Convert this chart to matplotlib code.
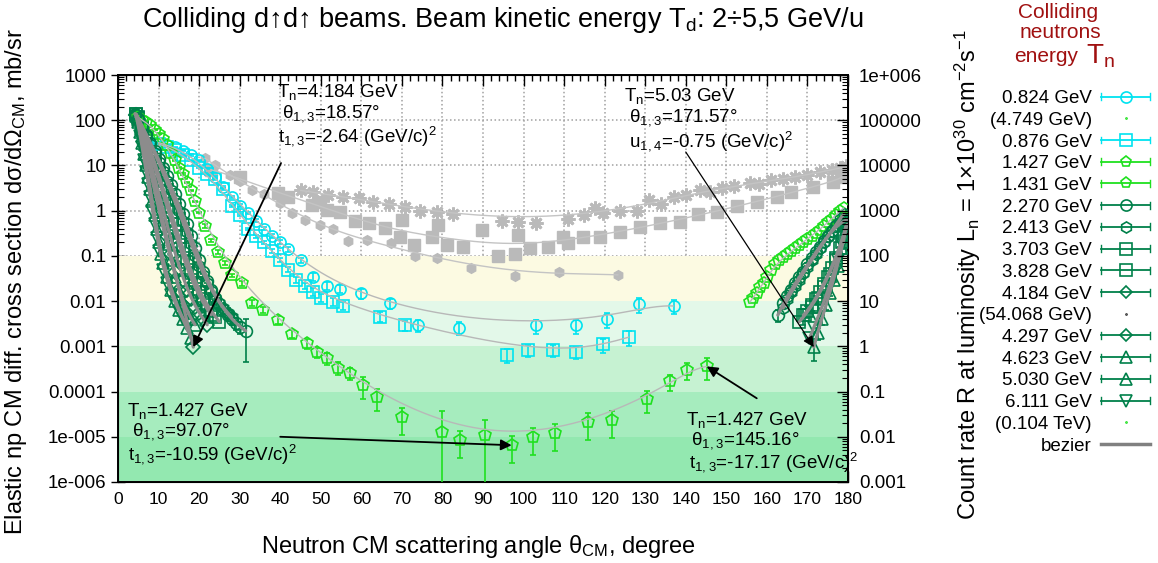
import numpy as np
import matplotlib

matplotlib.use("Agg")
import matplotlib.pyplot as plt
from matplotlib.lines import Line2D
from matplotlib.legend_handler import HandlerLine2D
from matplotlib.ticker import MultipleLocator, LogLocator, NullFormatter

plt.rcParams["font.family"] = ["Liberation Sans", "DejaVu Sans"]
plt.rcParams["mathtext.fontset"] = "custom"
plt.rcParams["mathtext.rm"] = "Liberation Sans"
plt.rcParams["mathtext.default"] = "regular"

# ---- data: neutron CM angle (deg) vs dsigma/dOmega (mb/sr), relative errors ----
c824_ang = [10, 12, 14, 16, 18, 20, 22, 24, 26, 28, 30, 32, 34, 36, 38, 40, 42, 45, 48, 51.5,
            54.7, 60, 67, 74, 84, 103, 113, 120.5, 128.5, 137]
c824_val = [32, 28, 25, 21, 17, 13, 8.5, 5.5, 3.4, 2.0, 1.3, 0.9, 0.6, 0.4, 0.28, 0.2, 0.14, 0.08,
            0.035, 0.022, 0.019, 0.015, 0.009, 0.0029, 0.0026, 0.0029, 0.0029, 0.004, 0.0085, 0.0078]
c824_err = [0.03, 0.03, 0.03, 0.03, 0.03, 0.03, 0.04, 0.04, 0.05, 0.05, 0.06, 0.06, 0.08, 0.08, 0.1,
            0.1, 0.12, 0.15, 0.2, 0.2, 0.2, 0.25, 0.25, 0.3, 0.3, 0.35, 0.35, 0.35, 0.35, 0.35]

c876_ang = [10, 12, 14, 16, 18, 20, 22, 24, 26, 28, 30, 32, 34, 36, 38, 40, 42, 44, 46, 48, 50,
            53, 55.5, 64.6, 70.8, 96, 101, 107.2, 113, 119.6, 126]
c876_val = [30, 26, 22, 17, 13, 9, 6.5, 5, 3, 1.3, 0.8, 0.4, 0.27, 0.2, 0.13, 0.08, 0.05, 0.03,
            0.022, 0.016, 0.012, 0.0097, 0.0078, 0.0045, 0.0029, 0.00065, 0.00081, 0.00081,
            0.00074, 0.0011, 0.0016]
c876_err = [0.03, 0.03, 0.03, 0.03, 0.03, 0.03, 0.04, 0.04, 0.05, 0.05, 0.06, 0.06, 0.08, 0.08,
            0.1, 0.1, 0.12, 0.15, 0.15, 0.2, 0.2, 0.2, 0.2, 0.25, 0.25, 0.35, 0.3, 0.3, 0.3, 0.35, 0.35]

g1427_ang = [5, 6, 7, 8, 9, 10, 11, 12, 13, 14, 15, 16, 17, 18, 19, 20, 21.4, 23, 24.7, 26.4, 28,
             30.6, 33, 35.7, 39.4, 42.9, 46.6, 49, 51.5, 54.2, 57.2, 60.4, 63.8, 70, 79.9, 84.3,
             90.5, 97.07, 102.3, 107.7, 115.9, 121.8, 130.4, 136, 140.3, 145.16]
g1427_val = [115, 100, 90, 78, 62, 50, 38, 28, 19, 13, 9, 6.5, 4.2, 2.8, 1.6, 0.9, 0.46, 0.22, 0.12,
             0.069, 0.037, 0.025, 0.0093, 0.0064, 0.0039, 0.0019, 0.00117, 0.00074, 0.00055,
             0.00034, 0.00026, 0.000138, 7.6e-5, 2.7e-5, 1.26e-5, 8.3e-6, 1.07e-5, 6.5e-6, 9.8e-6,
             1.2e-5, 2.1e-5, 2.3e-5, 6.7e-5, 1.7e-4, 3e-4, 3.6e-4]
g1427_err = [0.03, 0.03, 0.03, 0.03, 0.03, 0.03, 0.03, 0.03, 0.03, 0.03, 0.03, 0.03, 0.03, 0.03,
             0.03, 0.03, 0.08, 0.08, 0.1, 0.1, 0.1, 0.12, 0.15, 0.15, 0.2, 0.2, 0.25, 0.25, 0.3,
             0.3, 0.3, 0.5, 0.5, 0.6, 2.0, 0.6, 1.2, 0.6, 0.6, 0.6, 0.6, 0.6, 0.5, 0.4, 0.4, 0.5]

g1431_ang = [155.8, 156.6, 157.5, 158.4, 159.2, 160, 161, 162, 163, 164, 165, 166, 167, 168, 169,
             170, 171, 172, 173, 174, 175, 176, 177, 178, 179]
g1431_val = [0.0095, 0.012, 0.015, 0.02, 0.025, 0.035, 0.048, 0.065, 0.08, 0.095, 0.11, 0.13, 0.15,
             0.17, 0.2, 0.24, 0.28, 0.32, 0.38, 0.45, 0.55, 0.65, 0.8, 1.0, 1.15]

dg2270_ang = [4.2, 5, 6, 7, 8, 9, 10, 11, 12, 13, 14, 15, 16, 17, 18, 19, 20, 21, 22, 23, 24, 25,
              26, 27, 28, 29, 30, 31.5]
dg2270_val = [135, 105, 72, 48, 32, 21, 14, 9, 5.8, 3.7, 2.3, 1.4, 0.85, 0.5, 0.28, 0.15, 0.08,
              0.045, 0.028, 0.018, 0.012, 0.0085, 0.0065, 0.005, 0.004, 0.0033, 0.0027, 0.0022]
dg2270_err = [0.02, 0.02, 0.02, 0.02, 0.02, 0.02, 0.02, 0.03, 0.03, 0.03, 0.04, 0.04, 0.05, 0.05,
              0.06, 0.08, 0.1, 0.1, 0.12, 0.15, 0.15, 0.2, 0.2, 0.25, 0.25, 0.3, 0.3, 0.8]
dg2413_ang = [4.2, 5, 6, 7, 8, 9, 10, 11, 12, 13, 14, 15, 16, 17, 18, 19, 20, 21, 22, 23, 24, 25,
              26, 27, 28]
dg2413_val = [140, 110, 75, 48, 30, 19, 12, 7.5, 4.6, 2.8, 1.7, 1.0, 0.6, 0.33, 0.18, 0.1, 0.06,
              0.038, 0.025, 0.017, 0.012, 0.009, 0.007, 0.0055, 0.0045]
dg2413_err = [0.02, 0.02, 0.02, 0.02, 0.02, 0.02, 0.02, 0.02, 0.02, 0.02, 0.03, 0.03, 0.04, 0.05,
              0.06, 0.08, 0.1, 0.12, 0.15, 0.15, 0.2, 0.2, 0.25, 0.25, 0.3]
dg3703_ang = [4.5, 5, 6, 7, 8, 9, 10, 11, 12, 13, 14, 15, 16, 17, 18, 19, 20, 21, 22, 23]
dg3703_val = [135, 110, 62, 34, 18, 9.5, 5, 2.6, 1.3, 0.65, 0.33, 0.17, 0.09, 0.05, 0.03, 0.019,
              0.013, 0.009, 0.0065, 0.005]
dg3828_ang = [4.5, 5, 6, 7, 8, 9, 10, 11, 12, 13, 14, 15, 16, 17, 18, 19, 20, 21, 22, 23, 24, 25]
dg3828_val = [135, 115, 70, 40, 22, 12, 6.5, 3.5, 1.8, 0.95, 0.5, 0.26, 0.14, 0.075, 0.042, 0.025,
              0.016, 0.011, 0.008, 0.006, 0.0045, 0.0035]
dg4184_ang = [4.5, 5, 6, 7, 8, 9, 10, 11, 12, 13, 14, 15, 16, 17, 18.57]
dg4184_val = [130, 100, 50, 22, 9, 3.8, 1.6, 0.65, 0.27, 0.11, 0.045, 0.018, 0.008, 0.004, 0.00096]
dg4297_ang = [4.5, 5, 6, 7, 8, 9, 10, 11, 12, 13, 14, 15, 16, 17, 18, 19, 20, 21, 22]
dg4297_val = [130, 105, 55, 26, 12, 5.5, 2.5, 1.1, 0.5, 0.23, 0.11, 0.055, 0.03, 0.018, 0.011,
              0.0075, 0.0055, 0.004, 0.003]
dg4623_ang = [4.5, 5, 6, 7, 8, 9, 10, 11, 12, 13, 14, 15, 16, 17, 18, 19]
dg4623_val = [130, 100, 45, 18, 7, 2.8, 1.1, 0.45, 0.18, 0.08, 0.035, 0.017, 0.009, 0.006, 0.004,
              0.003]
dg5030_ang = [4.5, 5, 5.5, 6, 6.5, 7, 7.5, 8, 8.5, 9, 9.5, 10, 10.5, 11, 12, 13, 14, 15, 16, 17, 18]
dg5030_val = [125, 90, 55, 32, 18, 10, 5.5, 3, 1.6, 0.8, 0.4, 0.2, 0.11, 0.07, 0.035, 0.018, 0.01,
              0.0065, 0.004, 0.0025, 0.0015]
dg6111_ang = [4.5, 5, 5.5, 6, 6.5, 7, 7.5, 8, 8.5, 9, 9.5, 10, 11, 12, 13, 14, 15, 16, 17]
dg6111_val = [120, 80, 45, 25, 13, 7, 3.8, 2.0, 1.0, 0.5, 0.25, 0.13, 0.05, 0.025, 0.014, 0.009,
              0.006, 0.004, 0.003]

# backward hemisphere
bk2270_ang = [162.7, 164, 165, 166, 167, 168, 169, 170, 171, 172, 173, 174, 175, 176, 177, 178, 179,
              179.7]
bk2270_val = [0.0049, 0.009, 0.013, 0.018, 0.025, 0.034, 0.045, 0.065, 0.09, 0.12, 0.16, 0.21, 0.28,
              0.36, 0.45, 0.53, 0.6, 0.62]
bk2270_err = [0.3, 0.2, 0.15, 0.12, 0.1, 0.1, 0.08, 0.08, 0.06, 0.06, 0.05, 0.05, 0.05, 0.04, 0.04,
              0.04, 0.04, 0.04]
bk2413_ang = [164, 165, 166, 167, 168, 169, 170, 171, 172, 173, 174, 175, 176, 177, 178, 179]
bk2413_val = [0.007, 0.011, 0.016, 0.022, 0.03, 0.042, 0.058, 0.08, 0.11, 0.15, 0.2, 0.27, 0.36,
              0.48, 0.65, 0.85]
bk3703_ang = [169, 170, 171, 172, 173, 174, 175, 176, 177, 178, 179, 179.8]
bk3703_val = [0.0049, 0.006, 0.008, 0.011, 0.016, 0.024, 0.035, 0.055, 0.09, 0.15, 0.3, 0.5]
bk3703_err = [0.4, 0.3, 0.25, 0.2, 0.15, 0.12, 0.1, 0.08, 0.06, 0.05, 0.05, 0.05]
bk3828_ang = [168, 169.5, 171, 172.5, 174, 175.5, 177, 178.5, 179.5]
bk3828_val = [0.0035, 0.005, 0.0075, 0.012, 0.02, 0.04, 0.08, 0.2, 0.45]
bk5030_ang = [171.57, 172.5, 173.5, 174.5, 175.5, 176.5, 177.5, 178.5, 179.5]
bk5030_val = [0.00096, 0.002, 0.004, 0.008, 0.015, 0.03, 0.06, 0.15, 0.4]
bk5030_err = [0.5, 0.3, 0.25, 0.2, 0.15, 0.1, 0.08, 0.06, 0.05]
bk6111_ang = [170.5, 171.5, 172.5, 173.5, 174.5, 175.5, 176.5, 177.5, 178.5, 179.5]
bk6111_val = [0.0015, 0.0025, 0.004, 0.007, 0.012, 0.022, 0.04, 0.08, 0.18, 0.45]

# grey reference sets (high energies)
gs_ang = [45, 48, 51.8, 55.5, 59.4, 62.9, 66.8, 70.8, 74.5, 78.6, 82.6, 94.7, 98.6, 103, 111, 115,
          117.6, 119.6, 123.8, 128, 131, 134, 137, 140, 143.5, 146, 149, 152, 155.8, 158, 161, 164,
          167, 170, 173, 176, 178, 179.5]
gs_val = [2.8, 2.6, 2.2, 2.0, 1.9, 1.55, 1.4, 1.2, 1.0, 0.93, 0.85, 0.59, 0.56, 0.53, 0.65, 0.8,
          1.15, 0.89, 1.0, 1.0, 1.7, 1.4, 2.0, 2.2, 2.9, 2.6, 3.2, 3.6, 4.1, 3.8, 4.8, 5.0, 5.5,
          6.2, 7.0, 8.0, 8.7, 9.5]
gq_ang = [23, 30, 39.4, 42, 47.8, 49.8, 51.5, 54.7, 58.4, 62, 65.8, 69.5, 70, 73, 77.4, 79, 81, 85,
          89.7, 93.7, 98, 98.6, 101.6, 106, 109.7, 111, 114.6, 118.8, 123.8, 128.7, 133.6, 138.6,
          143, 147.7, 152.6, 157.5, 162.5, 166, 171.4, 176.3, 178.5]
gq_val = [8, 5.5, 2.5, 2.0, 1.33, 1.55, 1.03, 0.94, 0.59, 0.53, 0.42, 0.26, 0.61, 0.17, 0.26, 0.47,
          0.17, 0.16, 0.37, 0.10, 0.11, 0.29, 0.15, 0.16, 0.26, 0.19, 0.26, 0.26, 0.33, 0.43, 0.53,
          0.56, 0.83, 0.93, 1.27, 1.55, 2.0, 2.6, 3.3, 4.3, 5.5]
gh_ang = [21.4, 24, 27.6, 30, 33, 36, 40, 43, 46, 49.8, 53, 56.7, 61.4, 67.3, 73.2, 78.6, 87, 98,
          108.7, 123.3]
gh_val = [14.5, 10, 6.2, 4.5, 2.9, 2.3, 1.5, 0.9, 0.61, 0.47, 0.39, 0.21, 0.22, 0.19, 0.10, 0.09,
          0.055, 0.036, 0.043, 0.038]

band_edges = [1e-6, 1e-5, 1e-4, 1e-3, 1e-2, 1e-1]
band_colors = ["#93e8b0", "#a6ecbe", "#c6f2d2", "#e3f8e9", "#fcfae2"]

left_ticks = [1e-6, 1e-5, 1e-4, 1e-3, 1e-2, 1e-1, 1, 10, 100, 1000]
left_labels = ["1e-006", "1e-005", "0.0001", "0.001", "0.01", "0.1", "1", "10", "100", "1000"]
right_ticks = [1e-3, 1e-2, 1e-1, 1, 10, 100, 1e3, 1e4, 1e5, 1e6]
right_labels = ["0.001", "0.01", "0.1", "1", "10", "100", "1000", "10000", "100000", "1e+006"]

CYAN = "#00e3f0"
LIME = "#1fe01f"
DARK = "#00804a"
GREY = "#bababa"

fig = plt.figure(figsize=(11.58, 5.63), dpi=100)
ax = fig.add_axes([118 / 1158, 1 - 482 / 563, 730 / 1158, 407 / 563])
ax.set_yscale("log")
ax.set_xlim(0, 180)
ax.set_ylim(1e-6, 1e3)

for lo, hi, col in zip(band_edges[:-1], band_edges[1:], band_colors):
    ax.axhspan(lo, hi, color=col, lw=0, zorder=1)


def bezier(ang, val, color, lw):
    order = np.argsort(ang)
    pts = np.column_stack([np.asarray(ang, float)[order], np.log10(np.asarray(val, float)[order])])
    t = np.linspace(0, 1, 300)[:, None, None]
    p = np.broadcast_to(pts, (300,) + pts.shape).copy()
    while p.shape[1] > 1:
        p = (1 - t) * p[:, :-1] + t * p[:, 1:]
    ax.plot(p[:, 0, 0], 10 ** p[:, 0, 1], color=color, lw=lw, zorder=5, solid_capstyle="round")


def draw(ang, val, color, marker, err=None, ms=8):
    if err is None:
        ax.plot(ang, val, ls="none", marker=marker, ms=ms, mfc="none", mec=color, mew=1.2, zorder=3)
    else:
        yerr = np.asarray(val) * np.asarray(err)
        ax.errorbar(ang, val, yerr=yerr, fmt=marker, ms=ms, mfc="none", mec=color, ecolor=color,
                    elinewidth=1.2, capsize=2.5, mew=1.2, zorder=3)


# grey sets
ax.plot(gs_ang, gs_val, ls="none", marker=(8, 2, 0), ms=10, mec=GREY, mew=2, zorder=2)
ax.plot(gq_ang, gq_val, ls="none", marker="s", ms=8, mfc=GREY, mec=GREY, zorder=2)
ax.plot(gh_ang, gh_val, ls="none", marker="h", ms=7, mfc=GREY, mec=GREY, zorder=2)
for a, v in [(gs_ang, gs_val), (gq_ang, gq_val), (gh_ang, gh_val)]:
    bezier(a, v, "#c4c4c4", 1.0)

# cyan & lime
draw(c824_ang, c824_val, CYAN, "o", c824_err)
draw(c876_ang, c876_val, CYAN, "s", c876_err)
draw(g1427_ang, g1427_val, LIME, "p", g1427_err, ms=9)
draw(g1431_ang, g1431_val, LIME, "p", ms=9)
for a, v in [(c824_ang, c824_val), (c876_ang, c876_val), (g1427_ang, g1427_val),
             (g1431_ang, g1431_val)]:
    bezier(a, v, "#b8b8b8", 1.0)

# dark green sets
dark_sets = [
    (dg2270_ang, dg2270_val, "o", dg2270_err),
    (dg2413_ang, dg2413_val, "h", dg2413_err),
    (dg3703_ang, dg3703_val, "s", None),
    (dg3828_ang, dg3828_val, "s", None),
    (dg4184_ang, dg4184_val, "D", None),
    (dg4297_ang, dg4297_val, "D", None),
    (dg4623_ang, dg4623_val, "^", None),
    (dg5030_ang, dg5030_val, "^", None),
    (dg6111_ang, dg6111_val, "v", None),
    (bk2270_ang, bk2270_val, "o", bk2270_err),
    (bk2413_ang, bk2413_val, "h", None),
    (bk3703_ang, bk3703_val, "s", bk3703_err),
    (bk3828_ang, bk3828_val, "s", None),
    (bk5030_ang, bk5030_val, "^", bk5030_err),
    (bk6111_ang, bk6111_val, "v", None),
]
for a, v, m, e in dark_sets:
    draw(a, v, DARK, m, e, ms=7 if m == "D" else 8.5)
for a, v, m, e in dark_sets:
    bezier(a, v, "#8c8c8c", 2.3)

# axes cosmetics
ax.set_yticks(left_ticks)
ax.set_yticklabels(left_labels)
ax.yaxis.set_minor_locator(LogLocator(base=10, subs=np.arange(2, 10)))
ax.yaxis.set_minor_formatter(NullFormatter())
ax.xaxis.set_major_locator(MultipleLocator(10))
ax.xaxis.set_minor_locator(MultipleLocator(2))
ax.tick_params(axis="x", which="both", direction="in", top=True, labelsize=12.5, pad=7)
ax.tick_params(axis="x", which="major", length=8, width=1)
ax.tick_params(axis="x", which="minor", length=4, width=1)
ax.tick_params(axis="y", which="major", direction="inout", length=10, width=1, labelsize=13.5, right=False)
ax.tick_params(axis="y", which="minor", direction="in", length=4, width=0.8, right=False)
ax.grid(True, which="major", ls=":", color="#a0a0a0", lw=1.1)
ax.set_axisbelow(True)
for s in ax.spines.values():
    s.set_linewidth(1.4)

ax2 = ax.twinx()
ax2.set_yscale("log")
ax2.set_ylim(1e-3, 1e6)
ax2.set_yticks(right_ticks)
ax2.set_yticklabels(right_labels)
ax2.yaxis.set_minor_locator(LogLocator(base=10, subs=np.arange(2, 10)))
ax2.yaxis.set_minor_formatter(NullFormatter())
ax2.tick_params(axis="y", which="major", direction="in", length=8, width=1, labelsize=13.5, pad=8)
ax2.tick_params(axis="y", which="minor", direction="in", length=4, width=0.8)

# annotations
TS = 13.5
ann = [
    ([("T$_n$=4.184 GeV", 277, 92), (" θ$_{1,3}$=18.57°", 277, 114), ("t$_{1,3}$=-2.64 (GeV/c)$^2$", 278, 136)],
     (40.2, 11.3), (18.57, 0.00096), 1.3),
    ([("T$_n$=5.03 GeV", 624, 96), (" θ$_{1,3}$=171.57°", 624, 118), (" u$_{1,4}$=-0.75 (GeV/c)$^2$", 624, 141)],
     (140.0, 19.8), (171.57, 0.00096), 0.9),
    ([("T$_n$=1.427 GeV", 127, 411), (" θ$_{1,3}$=97.07°", 127, 432), ("t$_{1,3}$=-10.59 (GeV/c)$^2$", 128, 454)],
     (40.0, 1.0e-5), (97.07, 6.5e-6), 1.3),
    ([("T$_n$=1.427 GeV", 686, 420), (" θ$_{1,3}$=145.16°", 686, 441), (" t$_{1,3}$=-17.17 (GeV/c)$^2$", 684, 462)],
     (157.5, 7.1e-5), (145.16, 3.6e-4), 1.3),
]
for lines, start, end, lw in ann:
    for txt, px, py in lines:
        fig.text(px / 1158, 1 - py / 563, txt, fontsize=TS, ha="left", va="center", zorder=10)
    ax.annotate("", xy=end, xytext=start,
                arrowprops=dict(arrowstyle="-|>", color="black", lw=lw, mutation_scale=16,
                                shrinkA=0, shrinkB=0), zorder=8)

# titles and axis labels
fig.text(503 / 1158, 1 - 20 / 563, "Colliding d↑d↑ beams. Beam kinetic energy T$_d$: 2÷5,5 GeV/u",
         fontsize=19.5, ha="center", va="center")
fig.text(478 / 1158, 1 - 547 / 563, "Neutron CM scattering angle θ$_{CM}$, degree",
         fontsize=17, ha="center", va="center")
fig.text(16 / 1158, 1 - 282 / 563, "Elastic np CM diff. cross section dσ/dΩ$_{CM}$, mb/sr",
         fontsize=17, ha="center", va="center", rotation=90)
fig.text(968 / 1158, 1 - 275 / 563,
         "Count rate R at luminosity L$_n$ = 1×10$^{30}$ cm$^{-2}$s$^{-1}$",
         fontsize=17, ha="center", va="center", rotation=90)

RED = "#a01010"
fig.text(1058 / 1158, 1 - 12 / 563, "Colliding", fontsize=15, color=RED, ha="center", va="center")
fig.text(1060 / 1158, 1 - 33 / 563, "neutrons", fontsize=15, color=RED, ha="center", va="center")
fig.text(1078 / 1158, 1 - 56 / 563, "energy", fontsize=15, color=RED, ha="right", va="center")
fig.text(1086 / 1158, 1 - 56 / 563, "T$_n$", fontsize=20, color=RED, ha="left", va="center")


# legend with gnuplot-like capped handles
class CapHandler(HandlerLine2D):
    def create_artists(self, legend, orig, xd, yd, w, h, fs, trans):
        arts = super().create_artists(legend, orig, xd, yd, w, h, fs, trans)
        if getattr(orig, "_caps", False):
            y = (h - yd) / 2
            for x in (-xd, -xd + w):
                arts.append(Line2D([x, x], [y - 2.5, y + 2.5], color=orig.get_color(), lw=1,
                                   transform=trans))
        return arts


def handle(color, marker, ms=8, caps=True, lw=1.3):
    ln = Line2D([], [], color=color, marker=marker, ms=ms, mfc="none", mec=color, mew=1.2, lw=lw)
    ln._caps = caps
    return ln


leg_items = [
    (handle(CYAN, "o"), "0.824 GeV"),
    (handle(LIME, ".", 1.5, False, 0), "(4.749 GeV)"),
    (handle(CYAN, "s"), "0.876 GeV"),
    (handle(LIME, "p"), "1.427 GeV"),
    (handle(LIME, "p"), "1.431 GeV"),
    (handle(DARK, "o"), "2.270 GeV"),
    (handle(DARK, "h"), "2.413 GeV"),
    (handle(DARK, "s"), "3.703 GeV"),
    (handle(DARK, "s"), "3.828 GeV"),
    (handle(DARK, "D", 6.5), "4.184 GeV"),
    (handle("#333333", ".", 1.5, False, 0), "(54.068 GeV)"),
    (handle(DARK, "D", 6.5), "4.297 GeV"),
    (handle(DARK, "^"), "4.623 GeV"),
    (handle(DARK, "^"), "5.030 GeV"),
    (handle(DARK, "v"), "6.111 GeV"),
    (handle(LIME, ".", 1.5, False, 0), "(0.104 TeV)"),
    (handle("#808080", None, 0, False, 2.5), "bezier"),
]
fig.legend([h for h, _ in leg_items], [l for _, l in leg_items], loc="upper right",
           bbox_to_anchor=(1150 / 1158, 1 - 90 / 563), frameon=False, markerfirst=False,
           fontsize=13.5, handlelength=2.6, handletextpad=0.5, labelspacing=0.245, borderpad=0,
           borderaxespad=0, handler_map={Line2D: CapHandler()})

fig.savefig("out.png", dpi=100)
